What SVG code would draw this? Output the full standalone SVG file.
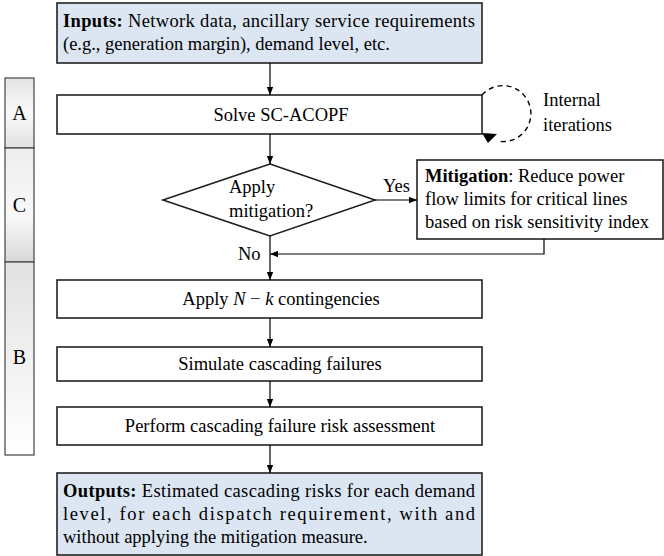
<svg xmlns="http://www.w3.org/2000/svg" width="664" height="556" viewBox="0 0 664 556">
<style>
.box{fill:#fff;stroke:#222;stroke-width:1.6}
.io{fill:#dce6f2;stroke:#222;stroke-width:1.6}
.bar{stroke:#444;stroke-width:1.2}
text{font-family:'Liberation Serif','Times New Roman',Times,serif;font-size:18.5px;fill:#000}
.c{text-anchor:middle}
.ln{stroke:#000;stroke-width:1.2;fill:none}
</style>
<defs>
<marker id="ar" viewBox="0 0 10 8" refX="10" refY="4" markerWidth="8" markerHeight="7" markerUnits="userSpaceOnUse" orient="auto">
<path d="M0,0 L10,4 L0,8 Z" fill="#000"/>
</marker>
<linearGradient id="gA" x1="0" y1="0" x2="0" y2="1"><stop offset="0" stop-color="#e4e4e4"/><stop offset="0.5" stop-color="#fafafa"/><stop offset="1" stop-color="#e0e0e0"/></linearGradient>
<linearGradient id="gC" x1="0" y1="0" x2="0" y2="1"><stop offset="0" stop-color="#eeeeee"/><stop offset="0.6" stop-color="#f8f8f8"/><stop offset="1" stop-color="#d8d8d8"/></linearGradient>
<linearGradient id="gB" x1="0" y1="0" x2="0" y2="1"><stop offset="0" stop-color="#e2e2e2"/><stop offset="1" stop-color="#ffffff"/></linearGradient>
</defs>

<g id="bar">
<rect class="bar" x="5" y="78" width="29" height="70" fill="url(#gA)"/>
<rect class="bar" x="5" y="148" width="29" height="114" fill="url(#gC)"/>
<rect class="bar" x="5" y="262" width="29" height="193" fill="url(#gB)"/>
<text class="c" x="19.5" y="120" style="font-size:20px">A</text>
<text class="c" x="19.5" y="212" style="font-size:20px">C</text>
<text class="c" x="19.5" y="364" style="font-size:20px">B</text>
</g>

<g id="inputs">
<rect class="io" x="57" y="3" width="425" height="60"/>
<text x="63" y="27" textLength="412" lengthAdjust="spacing"><tspan font-weight="bold">Inputs:</tspan> Network data, ancillary service requirements</text>
<text x="63" y="50">(e.g., generation margin), demand level, etc.</text>
</g>

<g id="solve">
<rect class="box" x="57" y="95" width="425" height="39"/>
<text class="c" x="281" y="121">Solve SC-ACOPF</text>
</g>

<g id="iter">
<path d="M482,95 A28,28 0 1 1 497,141" fill="none" stroke="#000" stroke-width="1.4" stroke-dasharray="5,4"/>
<path d="M482,133 L497,134 L488,143 Z" fill="#000"/>
<text x="543" y="106">Internal</text>
<text x="543" y="131">iterations</text>
</g>

<g id="decision">
<polygon class="box" points="270,164 375,200 270,236 163,200"/>
<text x="229" y="193">Apply</text>
<text x="229" y="217">mitigation?</text>
</g>

<g id="mitigation">
<rect class="box" x="417" y="160" width="246" height="79"/>
<text x="425" y="182"><tspan font-weight="bold">Mitigation</tspan>: Reduce power</text>
<text x="425" y="205">flow limits for critical lines</text>
<text x="425" y="228">based on risk sensitivity index</text>
</g>

<g id="apply">
<rect class="box" x="57" y="280" width="425" height="38"/>
<text class="c" x="281" y="305">Apply <tspan font-style="italic">N</tspan> − <tspan font-style="italic">k</tspan> contingencies</text>
</g>

<g id="simulate">
<rect class="box" x="57" y="347" width="425" height="34"/>
<text class="c" x="280" y="370">Simulate cascading failures</text>
</g>

<g id="perform">
<rect class="box" x="57" y="407" width="425" height="38"/>
<text class="c" x="280" y="432">Perform cascading failure risk assessment</text>
</g>

<g id="outputs">
<rect class="io" x="57" y="473" width="425" height="82"/>
<text x="63" y="497" textLength="412" lengthAdjust="spacing"><tspan font-weight="bold">Outputs:</tspan> Estimated cascading risks for each demand</text>
<text x="63" y="520" textLength="412" lengthAdjust="spacing">level, for each dispatch requirement, with and</text>
<text x="63" y="543">without applying the mitigation measure.</text>
</g>

<g id="connectors">
<line class="ln" x1="270" y1="63" x2="270" y2="95" marker-end="url(#ar)"/>
<line class="ln" x1="270" y1="134" x2="270" y2="164" marker-end="url(#ar)"/>
<line class="ln" x1="375" y1="200" x2="417" y2="200" marker-end="url(#ar)"/>
<polyline class="ln" points="544,239 544,254 270,254" marker-end="url(#ar)"/>
<line class="ln" x1="270" y1="236" x2="270" y2="280" marker-end="url(#ar)"/>
<line class="ln" x1="270" y1="318" x2="270" y2="347" marker-end="url(#ar)"/>
<line class="ln" x1="270" y1="381" x2="270" y2="407" marker-end="url(#ar)"/>
<line class="ln" x1="270" y1="445" x2="270" y2="473" marker-end="url(#ar)"/>
<text x="383" y="192">Yes</text>
<text x="238" y="260">No</text>
</g>
</svg>
